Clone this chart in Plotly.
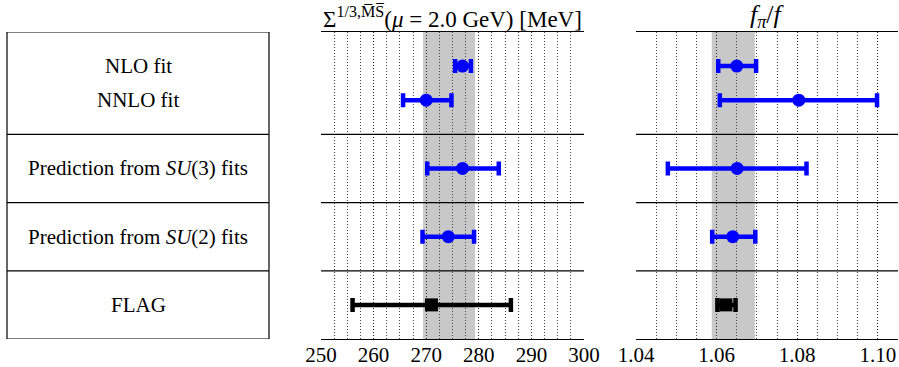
import plotly.graph_objects as go

# ---- data ----
categories = ["NLO fit", "NNLO fit", "Prediction from <i>SU</i>(3) fits",
              "Prediction from <i>SU</i>(2) fits", "FLAG"]
row_pos = [0.5, 1.0, 2.0, 3.0, 4.0]
row_dividers = [1.5, 2.5, 3.5]
label_pos = [0.5, 1.0, 2.0, 3.0, 4.0]

sigma_central = [276.9, 270.0, 276.9, 274.2, 271.0]
sigma_lo = [275.5, 265.6, 270.2, 269.3, 256.0]
sigma_hi = [278.5, 274.8, 283.8, 279.1, 286.1]
sigma_band = [269.4, 279.3]

ratio_central = [1.0650, 1.0804, 1.0651, 1.0640, 1.0623]
ratio_lo = [1.0604, 1.0608, 1.0479, 1.0589, 1.0602]
ratio_hi = [1.0698, 1.0998, 1.0823, 1.0696, 1.0647]
ratio_band = [1.0588, 1.0695]

colors = ["#0000ff", "#0000ff", "#0000ff", "#0000ff", "#000000"]
symbols = ["circle", "circle", "circle", "circle", "square"]

W, H = 899, 367
FONT = "Liberation Serif"

fig = go.Figure()

def add_series(xaxis, central, lo, hi):
    for i in range(len(central)):
        fig.add_trace(go.Scatter(
            x=[central[i]], y=[row_pos[i]], xaxis=xaxis, yaxis="y",
            mode="markers",
            marker=dict(color=colors[i], size=13, symbol=symbols[i]),
            error_x=dict(type="data", symmetric=False,
                         array=[hi[i] - central[i]],
                         arrayminus=[central[i] - lo[i]],
                         color=colors[i], thickness=4.5, width=7),
            showlegend=False, hoverinfo="skip"))

add_series("x", sigma_central, sigma_lo, sigma_hi)
add_series("x2", ratio_central, ratio_lo, ratio_hi)

mid_dom = [321 / W, 584 / W]
right_dom = [636 / W, 898 / W]
left_dom = [7 / W, 269 / W]

DOT = "1px,2px"
axis_common = dict(showline=True, linecolor="black", linewidth=1, mirror=True,
                   showgrid=True, gridcolor="#222222", griddash=DOT, gridwidth=1,
                   ticks="", zeroline=False, automargin=False, ticklabelstandoff=-3,
                   tickfont=dict(family=FONT, size=21, color="black"))

fig.update_layout(
    width=W, height=H, autosize=False,
    margin=dict(l=0, r=0, t=32, b=28, autoexpand=False),
    plot_bgcolor="white", paper_bgcolor="white",
    xaxis=dict(domain=mid_dom, range=[250, 300], dtick=10, tick0=250,
               minor=dict(dtick=2.5, showgrid=True, gridcolor="#444444",
                          griddash=DOT, gridwidth=1),
               anchor="y", **axis_common),
    xaxis2=dict(domain=right_dom, range=[1.04, 1.105], dtick=0.02, tick0=1.04,
                tickformat=".2f",
                minor=dict(dtick=0.005, showgrid=True, gridcolor="#444444",
                           griddash=DOT, gridwidth=1),
                anchor="y", **axis_common),
    yaxis=dict(range=[4.5, 0], showgrid=False, showticklabels=False, automargin=False,
               zeroline=False, showline=False, ticks=""),
)

shapes = []
# grey bands
shapes.append(dict(type="rect", xref="x", yref="paper", x0=sigma_band[0], x1=sigma_band[1],
                   y0=0, y1=1, fillcolor="#c8c8c8", line=dict(width=0), layer="below"))
shapes.append(dict(type="rect", xref="x2", yref="paper", x0=ratio_band[0], x1=ratio_band[1],
                   y0=0, y1=1, fillcolor="#c8c8c8", line=dict(width=0), layer="below"))
# row dividers in the data panels and label box
for yv in row_dividers:
    for xr in ["x domain", "x2 domain"]:
        shapes.append(dict(type="line", xref=xr, yref="y", x0=0, x1=1, y0=yv, y1=yv,
                           line=dict(color="black", width=1.2)))
    shapes.append(dict(type="line", xref="paper", yref="y", x0=left_dom[0], x1=left_dom[1],
                       y0=yv, y1=yv, line=dict(color="black", width=1.2)))
# label box
shapes.append(dict(type="rect", xref="paper", yref="y", x0=left_dom[0], x1=left_dom[1],
                   y0=0, y1=4.5, line=dict(color="black", width=1.2)))
fig.update_layout(shapes=shapes)

annotations = []
for lab, yv in zip(categories, label_pos):
    annotations.append(dict(x=(left_dom[0] + left_dom[1]) / 2, y=yv, xref="paper", yref="y",
                            text=lab, showarrow=False, xanchor="center", yanchor="middle",
                            font=dict(family=FONT, size=21, color="black")))
annotations.append(dict(x=0.5, y=1, xref="x domain", yref="paper", yanchor="bottom",
                        text="Σ<sup>1/3,M̅S̅</sup>(<i>μ</i> = 2.0 GeV) [MeV]",
                        showarrow=False, yshift=-2,
                        font=dict(family=FONT, size=23, color="black")))
annotations.append(dict(x=0.5, y=1, xref="x2 domain", yref="paper", yanchor="bottom",
                        text="<i>f</i><sub><i>π</i></sub>/<i>f</i>",
                        showarrow=False, yshift=-2,
                        font=dict(family=FONT, size=26, color="black")))
fig.update_layout(annotations=annotations)

fig.write_html("out.html", config={"displayModeBar": False},
               post_script="document.body.style.margin='0';"
                           "document.body.style.overflow='hidden';")
